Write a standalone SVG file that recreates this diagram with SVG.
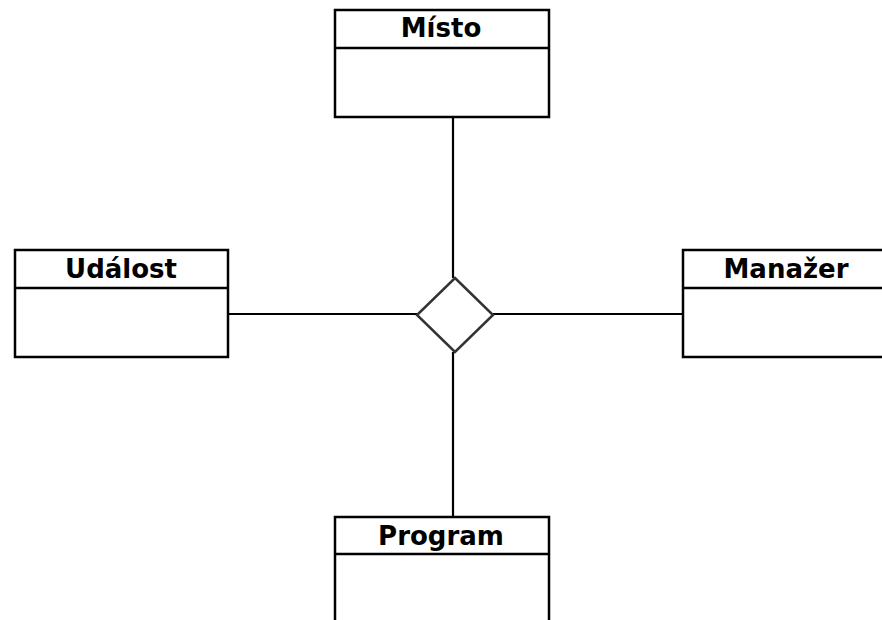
<svg xmlns="http://www.w3.org/2000/svg" width="882" height="620" viewBox="0 0 882 620">
<style>
.box{fill:#fff;stroke:#000;stroke-width:2.5}
.sep{stroke:#000;stroke-width:2.5}
.lbl{font-family:"DejaVu Sans",sans-serif;font-weight:bold;font-size:26px;text-anchor:middle;fill:#000}
.con{stroke:#000;stroke-width:2.2;fill:none}
</style>
<rect width="882" height="620" fill="#fff"/>
<g id="connectors">
<line class="con" x1="453" y1="117" x2="453" y2="278"/>
<line class="con" x1="453" y1="352" x2="453" y2="517"/>
<line class="con" x1="228" y1="314" x2="417" y2="314"/>
<line class="con" x1="493" y1="314" x2="683" y2="314"/>
</g>
<g id="diamond">
<polygon points="455,278 493,315 455,352 417,315" fill="#fff" stroke="#333" stroke-width="2.5"/>
</g>
<g id="misto">
<rect class="box" x="335" y="10" width="214" height="107"/>
<line class="sep" x1="335" y1="48" x2="549" y2="48"/>
<text class="lbl" x="441" y="37">Místo</text>
</g>
<g id="udalost">
<rect class="box" x="15" y="250" width="213" height="107"/>
<line class="sep" x1="15" y1="288" x2="228" y2="288"/>
<text class="lbl" x="121" y="278">Událost</text>
</g>
<g id="manazer">
<rect class="box" x="683" y="250" width="207" height="107"/>
<line class="sep" x1="683" y1="288" x2="890" y2="288"/>
<text class="lbl" x="786" y="278">Manažer</text>
</g>
<g id="program">
<rect class="box" x="335" y="517" width="214" height="120"/>
<line class="sep" x1="335" y1="554" x2="549" y2="554"/>
<text class="lbl" x="441" y="545">Program</text>
</g>
</svg>
